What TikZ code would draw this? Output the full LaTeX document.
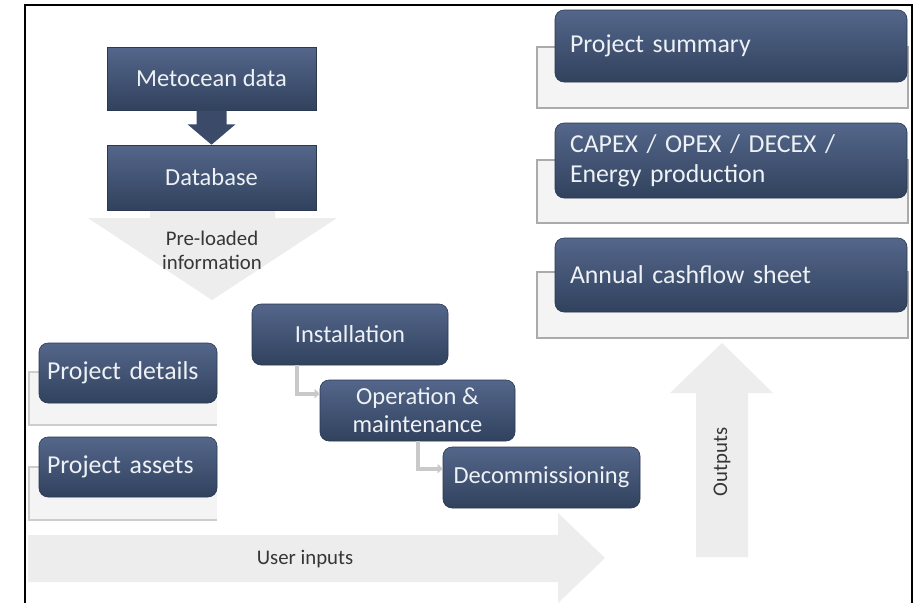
\documentclass[tikz,border=0pt]{standalone}
\usepackage{fontspec}
\setmainfont{Carlito}
\usetikzlibrary{calc,arrows.meta}
\definecolor{boxtop}{HTML}{54668A}
\definecolor{boxbot}{HTML}{31425E}
\definecolor{boxtxt}{HTML}{EEF1F5}
\definecolor{arrowdark}{HTML}{3A4A68}
\definecolor{palegrey}{HTML}{EDEDED}
\definecolor{bracketfill}{HTML}{F4F4F4}
\definecolor{bracketline}{HTML}{ABABAB}
\definecolor{linkgrey}{HTML}{C9C9C9}
\definecolor{labeltxt}{HTML}{363636}
\begin{document}
\begin{tikzpicture}[x=1pt,y=-1pt,
  darkbox/.style={top color=boxtop,bottom color=boxbot,draw=boxbot!85!black,
    line width=0.6pt,text=boxtxt,inner sep=0pt,align=center},
  roundbox/.style={darkbox,rounded corners=9pt},
  midtext/.style={font=\fontsize{24.5}{28}\selectfont},
  bigtext/.style={font=\fontsize{25.8}{30}\selectfont},
  leftbox/.style={roundbox,bigtext,align=left,inner xsep=15pt,text width=322pt,
    minimum width=352pt},
  sidebox/.style={roundbox,bigtext,align=left,inner xsep=8pt,text width=162pt,
    minimum width=178pt,minimum height=60pt},
  bracket/.style={fill=bracketfill,draw=bracketline,line width=1.3pt},
  palearrow/.style={fill=palegrey},
  arrowlabel/.style={text=labeltxt,align=center,font=\fontsize{20.8}{24}\selectfont},
  link/.style={draw=linkgrey,line width=4pt,-{Triangle[length=5pt,width=9pt]}},
]
% canvas
\fill[white] (0,0) rectangle (922,603);
\useasboundingbox (0,0) rectangle (922,603);

% pale block arrows
\fill[palearrow] (150,205) -- (275,205) -- (275,218) -- (337,218) -- (212,300)
  -- (88,218) -- (150,218) -- cycle;
\fill[palearrow] (28,535) -- (558,535) -- (558,513) -- (605,558) -- (558,603)
  -- (558,582) -- (28,582) -- cycle;
\fill[palearrow] (696,557) -- (696,393) -- (670,393) -- (722,343) -- (773,393)
  -- (748,393) -- (748,557) -- cycle;

% grey brackets behind the boxes
\filldraw[bracket] (537,47) rectangle (908,108);
\filldraw[bracket] (537,160) rectangle (908,223);
\filldraw[bracket] (537,272) rectangle (908,338);
\fill[bracketfill] (29,372) rectangle (217,425);
\draw[bracketline!60,line width=1.2pt] (39,372) -- (29,372) -- (29,425) -- (217,425);
\fill[bracketfill] (29,467) rectangle (217,520);
\draw[bracketline!60,line width=1.2pt] (39,467) -- (29,467) -- (29,520) -- (217,520);

% data source boxes
\node[darkbox,midtext,minimum width=209pt,minimum height=63pt] (meto) at (211.5,78.5) {Metocean data};
\node[darkbox,midtext,minimum width=209pt,minimum height=65pt] (db) at (211.5,177.5) {Database};
\fill[arrowdark] ($(meto.south)+(-15,0)$) -- ($(meto.south)+(15,0)$)
  -- ($(meto.south)+(15,14)$) -- ($(meto.south)+(24,14)$) -- (db.north)
  -- ($(meto.south)+(-24,14)$) -- ($(meto.south)+(-15,14)$) -- cycle;

% output boxes
\node[leftbox,minimum height=72pt] (ps) at (731,46) {Project summary};
\node[leftbox,minimum height=75pt] (cap) at (731,160.5) {CAPEX / OPEX / DECEX /\\Energy production};
\node[leftbox,minimum height=74pt] (acf) at (731,275) {Annual cashflow sheet};

% user input boxes
\node[sidebox] (pd) at (128,373) {Project details};
\node[sidebox] (pa) at (128,467) {Project assets};

% project phases
\node[roundbox,midtext,minimum width=196pt,minimum height=61pt] (inst) at (350,334.5) {Installation};
\node[roundbox,midtext,minimum width=195pt,minimum height=61pt] (oper) at (417.5,410.5) {Operation \&\\maintenance};
\node[roundbox,midtext,minimum width=197pt,minimum height=61pt] (dec) at (541.5,477.5) {Decommissioning};
\draw[link] ($(inst.south west)+(45,0)$) |- ($(oper.north west)+(0,14)$);
\draw[link] ($(oper.south west)+(98,0)$) |- ($(dec.north west)+(0,22)$);

% arrow labels
\node[arrowlabel] (pre) at (212,250) {Pre-loaded\\information};
\node[arrowlabel] (ui) at (305,559) {User inputs};
\node[arrowlabel,rotate=90] (out) at (722,462) {Outputs};

% frame
\draw[line width=2pt] (25,603) -- (25,5) -- (912,5) -- (912,603);
\end{tikzpicture}
\end{document}
